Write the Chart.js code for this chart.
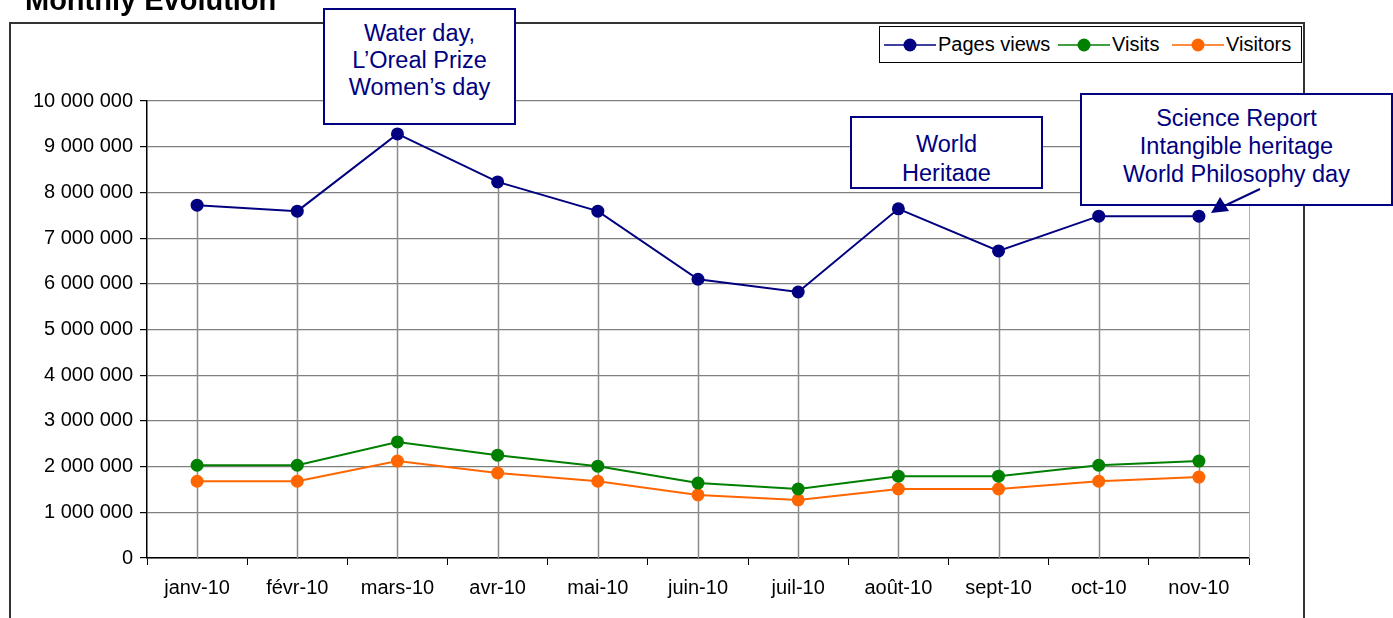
<!DOCTYPE html>
<html>
<head>
<meta charset="utf-8">
<script src="https://cdn.jsdelivr.net/npm/chart.js@4/dist/chart.umd.min.js"></script>
<style>
  body { margin: 0; background: #fff; font-family: "Liberation Sans", Arial, sans-serif; }
  #wrap { position: relative; width: 1393px; height: 618px; overflow: hidden; }
  #chart { position: absolute; left: 0; top: 0; }
  #frame { position: absolute; left: 9px; top: 22px; width: 1292px; height: 700px; border: 2px solid #333; }
  #title { position: absolute; left: 25px; top: -14px; font-size: 29px; font-weight: bold; line-height: 28px; color: #000; }
  #legend { position: absolute; left: 879px; top: 26px; width: 421px; height: 35px; border: 1px solid #000; background: #fff;
            font-size: 20px; line-height: 35px; white-space: nowrap; }
  .item { position: absolute; top: 0; }
  .item svg { position: absolute; top: 11px; left: 0; }
  .item span { position: absolute; left: 54px; }
  .note { position: absolute; border: 2px solid #000080; background: #fff; color: #000080; font-size: 23.5px;
          text-align: center; overflow: hidden; box-sizing: border-box; }
  .note div { position: absolute; left: 0; right: 0; overflow: hidden; }
  #arrow { position: absolute; left: 0; top: 0; }
</style>
</head>
<body>
<div id="wrap">
  <div id="frame"></div>
  <canvas id="chart" width="1393" height="618"></canvas>
  <div id="title">Monthly Evolution</div>
  <div id="legend"></div>
  <div class="note" style="left:323px; top:8px; width:193px; height:117px;">
    <div style="top:10px; line-height:27px;">Water day,<br>L’Oreal Prize<br>Women’s day</div>
  </div>
  <div class="note" style="left:850px; top:116px; width:193px; height:73px;">
    <div style="top:12px; line-height:29px; height:51px;">World<br>Heritage</div>
  </div>
  <div class="note" style="left:1080px; top:93px; width:313px; height:113px;">
    <div style="top:9px; line-height:28px;">Science Report<br>Intangible heritage<br>World Philosophy day</div>
  </div>
  <svg id="arrow" width="1393" height="618">
    <line x1="1260" y1="189" x2="1222" y2="207" stroke="#000080" stroke-width="2"/>
    <polygon points="1211,213 1220,197 1229,211" fill="#000080"/>
  </svg>
</div>
<script>
const months = ["janv-10", "févr-10", "mars-10", "avr-10", "mai-10", "juin-10",
                "juil-10", "août-10", "sept-10", "oct-10", "nov-10"];
const pageViews = [7720000, 7590000, 9280000, 8230000, 7590000, 6100000,
                   5820000, 7640000, 6720000, 7480000, 7480000];
const visits = [2030000, 2030000, 2540000, 2250000, 2010000, 1640000,
                1510000, 1790000, 1790000, 2030000, 2120000];
const visitors = [1680000, 1680000, 2120000, 1860000, 1680000, 1380000,
                  1270000, 1510000, 1510000, 1680000, 1770000];
const yTicks = [0, 1000000, 2000000, 3000000, 4000000, 5000000,
                6000000, 7000000, 8000000, 9000000, 10000000];

const seriesNames = ["Pages views", "Visits", "Visitors"];
const seriesColors = ["#000080", "#008000", "#ff6600"];

function spaced(v) {
  return String(v).replace(/\B(?=(\d{3})+(?!\d))/g, " ");
}

// vertical drop lines from the highest point down to the axis, plus right edge of plot
const dropLines = {
  id: "dropLines",
  beforeDatasetsDraw(chart) {
    const ctx = chart.ctx, x = chart.scales.x, y = chart.scales.y, a = chart.chartArea;
    ctx.save();
    ctx.strokeStyle = "#8c8c8c";
    ctx.lineWidth = 1.5;
    months.forEach(function (m, i) {
      const top = Math.max(pageViews[i], visits[i], visitors[i]);
      const px = Math.round(x.getPixelForValue(i)) + 0.5;
      ctx.beginPath();
      ctx.moveTo(px, y.getPixelForValue(top));
      ctx.lineTo(px, y.getPixelForValue(0));
      ctx.stroke();
    });
    ctx.strokeStyle = "#b0b0b0";
    ctx.lineWidth = 1;
    ctx.beginPath();
    ctx.moveTo(a.right + 0.5, a.top);
    ctx.lineTo(a.right + 0.5, a.bottom);
    ctx.stroke();
    ctx.restore();
  }
};

function makeSet(label, data, color) {
  return {
    label: label,
    data: data,
    borderColor: color,
    backgroundColor: color,
    borderWidth: 2,
    pointRadius: 6.5,
    pointHoverRadius: 6.5,
    pointBorderWidth: 0,
    tension: 0
  };
}

new Chart(document.getElementById("chart"), {
  type: "line",
  data: {
    labels: months,
    datasets: [
      makeSet(seriesNames[0], pageViews, seriesColors[0]),
      makeSet(seriesNames[1], visits, seriesColors[1]),
      makeSet(seriesNames[2], visitors, seriesColors[2])
    ]
  },
  options: {
    responsive: false,
    animation: false,
    layout: { padding: { left: 0, right: 144, top: 101, bottom: 0 } },
    plugins: { legend: { display: false }, title: { display: false }, tooltip: { enabled: false } },
    scales: {
      x: {
        offset: true,
        grid: { drawOnChartArea: false, drawTicks: true, tickLength: 7, tickColor: "#000", offset: true },
        border: { color: "#000", width: 1.5 },
        ticks: { color: "#000", padding: 11, maxRotation: 0, font: { family: "Liberation Sans", size: 20 } },
        afterFit: function (s) { s.height = 60; }
      },
      y: {
        min: 0,
        max: 10000000,
        afterBuildTicks: function (s) { s.ticks = yTicks.map(function (v) { return { value: v }; }); },
        grid: { color: "#808080", lineWidth: 1.2, tickLength: 7, tickColor: "#000" },
        border: { color: "#000", width: 1.5 },
        ticks: { color: "#000", padding: 7, font: { family: "Liberation Sans", size: 20 },
                 callback: function (v) { return spaced(v); } },
        afterFit: function (s) { s.width = 147; }
      }
    }
  },
  plugins: [dropLines]
});

// legend built from the series names and colours
const legendX = [4, 178, 292];
const legend = document.getElementById("legend");
seriesNames.forEach(function (name, i) {
  const el = document.createElement("div");
  el.className = "item";
  el.style.left = legendX[i] + "px";
  el.innerHTML = '<svg width="52" height="14"><line x1="0" y1="7" x2="52" y2="7" stroke="' + seriesColors[i] +
    '" stroke-width="1.5"/><circle cx="26" cy="7" r="6.5" fill="' + seriesColors[i] + '"/></svg><span>' + name + '</span>';
  legend.appendChild(el);
});
</script>
</body>
</html>
